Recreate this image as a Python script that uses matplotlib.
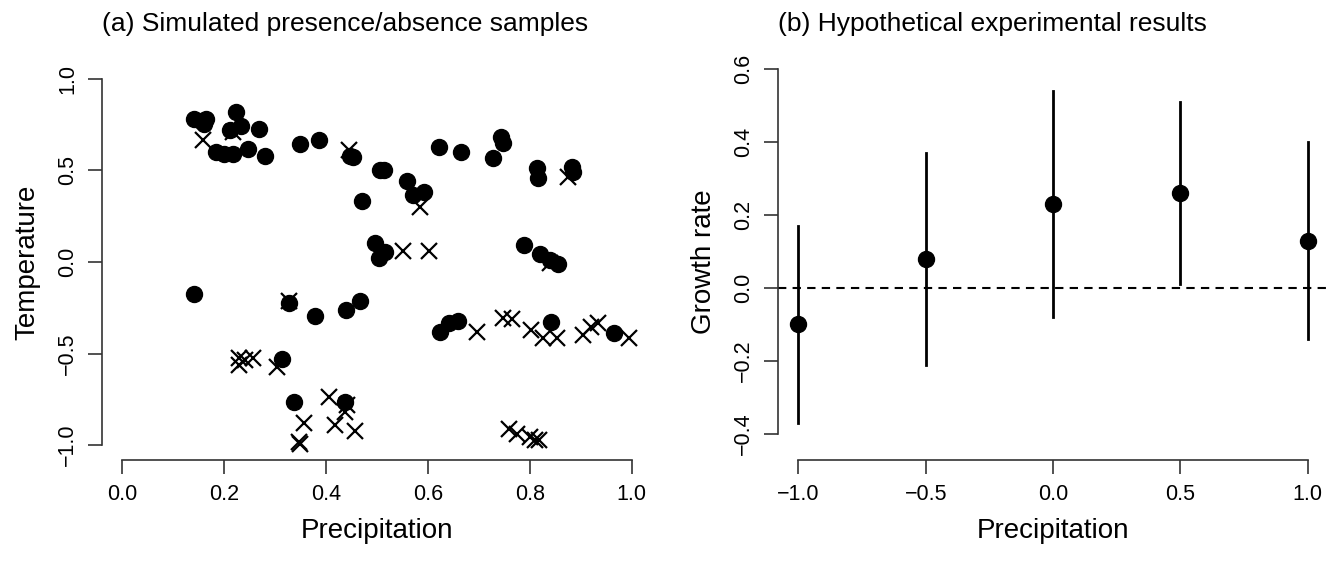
import numpy as np
import matplotlib.pyplot as plt

plt.rcParams['font.family'] = ['Liberation Sans', 'DejaVu Sans']

# panel (a): presence (circles) and absence (crosses)
pres_x = [0.141, 0.155, 0.165, 0.16, 0.224, 0.233, 0.212, 0.269, 0.184, 0.199, 0.217, 0.246, 0.279,
          0.348, 0.386, 0.446, 0.452, 0.471, 0.506, 0.514, 0.558, 0.571, 0.592, 0.622, 0.664, 0.743,
          0.748, 0.728, 0.813, 0.816, 0.882, 0.885, 0.496, 0.503, 0.516, 0.789, 0.82, 0.839, 0.855,
          0.141, 0.327, 0.378, 0.438, 0.467, 0.624, 0.641, 0.658, 0.841, 0.965, 0.313, 0.336, 0.437]
pres_y = [0.78, 0.77, 0.78, 0.75, 0.82, 0.74, 0.72, 0.725, 0.60, 0.59, 0.59, 0.615, 0.575,
          0.643, 0.667, 0.58, 0.57, 0.333, 0.503, 0.50, 0.443, 0.366, 0.38, 0.627, 0.60, 0.681,
          0.649, 0.568, 0.512, 0.46, 0.517, 0.49, 0.102, 0.02, 0.056, 0.093, 0.044, 0.011, -0.011,
          -0.177, -0.226, -0.295, -0.262, -0.211, -0.381, -0.335, -0.322, -0.33, -0.39, -0.532, -0.763, -0.763]

abs_x = [0.159, 0.218, 0.444, 0.584, 0.874, 0.55, 0.602, 0.839, 0.327, 0.228, 0.228, 0.241, 0.256,
         0.303, 0.357, 0.349, 0.347, 0.405, 0.418, 0.437, 0.456, 0.44, 0.697, 0.748, 0.764, 0.802,
         0.825, 0.854, 0.905, 0.92, 0.934, 0.995, 0.759, 0.774, 0.80, 0.81, 0.818]
abs_y = [0.663, 0.71, 0.61, 0.30, 0.463, 0.062, 0.062, -0.007, -0.211, -0.526, -0.563, -0.536, -0.523,
         -0.572, -0.878, -0.991, -0.985, -0.736, -0.89, -0.818, -0.923, -0.78, -0.384, -0.308, -0.313, -0.372,
         -0.417, -0.417, -0.399, -0.353, -0.335, -0.417, -0.909, -0.936, -0.954, -0.973, -0.973]

# panel (b): growth rate with error bars
precip = [-1.0, -0.5, 0.0, 0.5, 1.0]
growth = [-0.10, 0.08, 0.23, 0.26, 0.13]
lower = [-0.37, -0.21, -0.08, 0.01, -0.14]
upper = [0.17, 0.37, 0.54, 0.51, 0.40]

fig = plt.figure(figsize=(13.42, 5.65), dpi=100)
ax1 = fig.add_axes([0.076, 0.186, 0.41, 0.701])
ax2 = fig.add_axes([0.5797, 0.186, 0.41, 0.701])

def rstyle(ax, xt, yt, xl, yl):
    for s in ['top', 'right']:
        ax.spines[s].set_visible(False)
    ax.spines['left'].set_bounds(yt[0], yt[-1])
    ax.spines['bottom'].set_bounds(xt[0], xt[-1])
    for s in ['left', 'bottom']:
        ax.spines[s].set_color('#333333')
        ax.spines[s].set_linewidth(1.2)
    ax.set_xticks(xt)
    ax.set_yticks(yt)
    ax.set_xticklabels(xl)
    ax.set_yticklabels(yl, rotation=90, va='center')
    ax.tick_params(length=10, width=1.2, color='#333333', labelsize=15.5, pad=7)

ax1.plot(pres_x, pres_y, 'o', color='black', ms=11.5, ls='none')
ax1.plot(abs_x, abs_y, 'x', color='black', ms=12, mew=1.6, ls='none')
ax1.set_xlim(-0.04, 1.04)
ax1.set_ylim(-1.08, 1.08)
rstyle(ax1, [0.0, 0.2, 0.4, 0.6, 0.8, 1.0], [-1.0, -0.5, 0.0, 0.5, 1.0],
       ['0.0', '0.2', '0.4', '0.6', '0.8', '1.0'],
       ['\u22121.0', '\u22120.5', '0.0', '0.5', '1.0'])
ax1.set_xlabel('Precipitation', fontsize=20, labelpad=10)
ax1.set_ylabel('Temperature', fontsize=20, labelpad=12)
ax1.set_title('(a) Simulated presence/absence samples', fontsize=19, pad=24, loc='left')

ax2.axhline(0, color='black', lw=1.5, ls=(0, (4, 3)))
for i in range(len(precip)):
    ax2.plot([precip[i], precip[i]], [lower[i], upper[i]], color='black', lw=2)
ax2.plot(precip, growth, 'o', color='black', ms=11.5, ls='none')
ax2.set_xlim(-1.08, 1.08)
ax2.set_ylim(-0.471, 0.614)
rstyle(ax2, [-1.0, -0.5, 0.0, 0.5, 1.0], [-0.4, -0.2, 0.0, 0.2, 0.4, 0.6],
       ['\u22121.0', '\u22120.5', '0.0', '0.5', '1.0'],
       ['\u22120.4', '\u22120.2', '0.0', '0.2', '0.4', '0.6'])
ax2.set_xlabel('Precipitation', fontsize=20, labelpad=10)
ax2.set_ylabel('Growth rate', fontsize=20, labelpad=12)
ax2.set_title('(b) Hypothetical experimental results', fontsize=19, pad=24, loc='left')

fig.savefig('out.png', dpi=100)
